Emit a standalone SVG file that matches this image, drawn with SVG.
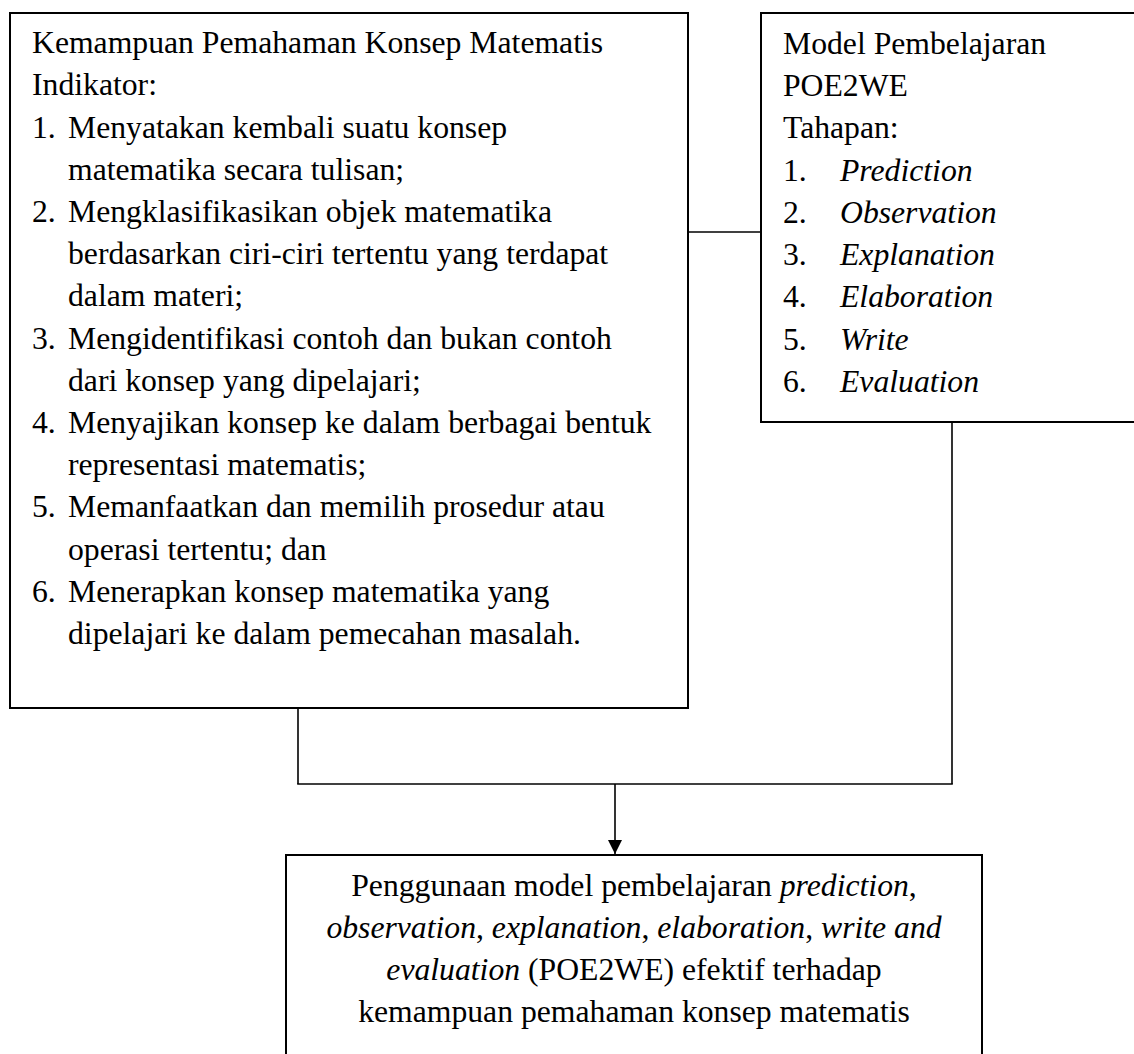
<svg xmlns="http://www.w3.org/2000/svg" width="1134" height="1054" viewBox="0 0 1134 1054">
<defs>
<style>
.box{fill:#fff;stroke:#000;stroke-width:2}
.t{font-family:"Liberation Serif","Times New Roman",serif;font-size:31.7px;fill:#000}
.i{font-style:italic}
.c{text-anchor:middle}
.ln{stroke:#000;stroke-width:1.6;fill:none}
</style>
<marker id="ah" markerWidth="14" markerHeight="14" refX="14" refY="7" orient="auto" markerUnits="userSpaceOnUse">
<path d="M0,0 L14,7 L0,14 Z" fill="#000"/>
</marker>
</defs>
<rect width="1134" height="1054" fill="#fff"/>
<g id="connectors">
<line class="ln" x1="688" y1="232" x2="761" y2="232"/>
<line class="ln" x1="298" y1="708" x2="298" y2="784"/>
<line class="ln" x1="952" y1="422" x2="952" y2="784"/>
<line class="ln" x1="297.2" y1="784" x2="952.8" y2="784"/>
<line class="ln" x1="615" y1="784" x2="615" y2="854" marker-end="url(#ah)"/>
</g>
<g id="node-konsep">
<rect class="box" x="10" y="13" width="678" height="695"/>
<text class="t" x="32" y="53">Kemampuan Pemahaman Konsep Matematis</text>
<text class="t" x="32" y="95">Indikator:</text>
<text class="t" x="32" y="138">1.</text><text class="t" x="68" y="138">Menyatakan kembali suatu konsep</text>
<text class="t" x="68" y="180">matematika secara tulisan;</text>
<text class="t" x="32" y="222">2.</text><text class="t" x="68" y="222">Mengklasifikasikan objek matematika</text>
<text class="t" x="68" y="264">berdasarkan ciri-ciri tertentu yang terdapat</text>
<text class="t" x="68" y="306">dalam materi;</text>
<text class="t" x="32" y="349">3.</text><text class="t" x="68" y="349">Mengidentifikasi contoh dan bukan contoh</text>
<text class="t" x="68" y="391">dari konsep yang dipelajari;</text>
<text class="t" x="32" y="433">4.</text><text class="t" x="68" y="433">Menyajikan konsep ke dalam berbagai bentuk</text>
<text class="t" x="68" y="475">representasi matematis;</text>
<text class="t" x="32" y="517">5.</text><text class="t" x="68" y="517">Memanfaatkan dan memilih prosedur atau</text>
<text class="t" x="68" y="560">operasi tertentu; dan</text>
<text class="t" x="32" y="602">6.</text><text class="t" x="68" y="602">Menerapkan konsep matematika yang</text>
<text class="t" x="68" y="644">dipelajari ke dalam pemecahan masalah.</text>
</g>
<g id="node-model">
<rect class="box" x="761" y="13" width="380" height="409"/>
<text class="t" x="783" y="54">Model Pembelajaran</text>
<text class="t" x="783" y="96">POE2WE</text>
<text class="t" x="783" y="138">Tahapan:</text>
<text class="t" x="783" y="181">1.</text><text class="t i" x="840" y="181">Prediction</text>
<text class="t" x="783" y="223">2.</text><text class="t i" x="840" y="223">Observation</text>
<text class="t" x="783" y="265">3.</text><text class="t i" x="840" y="265">Explanation</text>
<text class="t" x="783" y="307">4.</text><text class="t i" x="840" y="307">Elaboration</text>
<text class="t" x="783" y="350">5.</text><text class="t i" x="840" y="350">Write</text>
<text class="t" x="783" y="392">6.</text><text class="t i" x="840" y="392">Evaluation</text>
</g>
<g id="node-hasil">
<rect class="box" x="286" y="855" width="696" height="210"/>
<text class="t c" x="634" y="896">Penggunaan model pembelajaran <tspan class="i">prediction</tspan>,</text>
<text class="t c i" x="634" y="938">observation<tspan font-style="normal">,</tspan> explanation<tspan font-style="normal">,</tspan> elaboration<tspan font-style="normal">,</tspan> write and</text>
<text class="t c" x="634" y="980"><tspan class="i">evaluation</tspan> (POE2WE) efektif terhadap</text>
<text class="t c" x="634" y="1022">kemampuan pemahaman konsep matematis</text>
</g>
</svg>
